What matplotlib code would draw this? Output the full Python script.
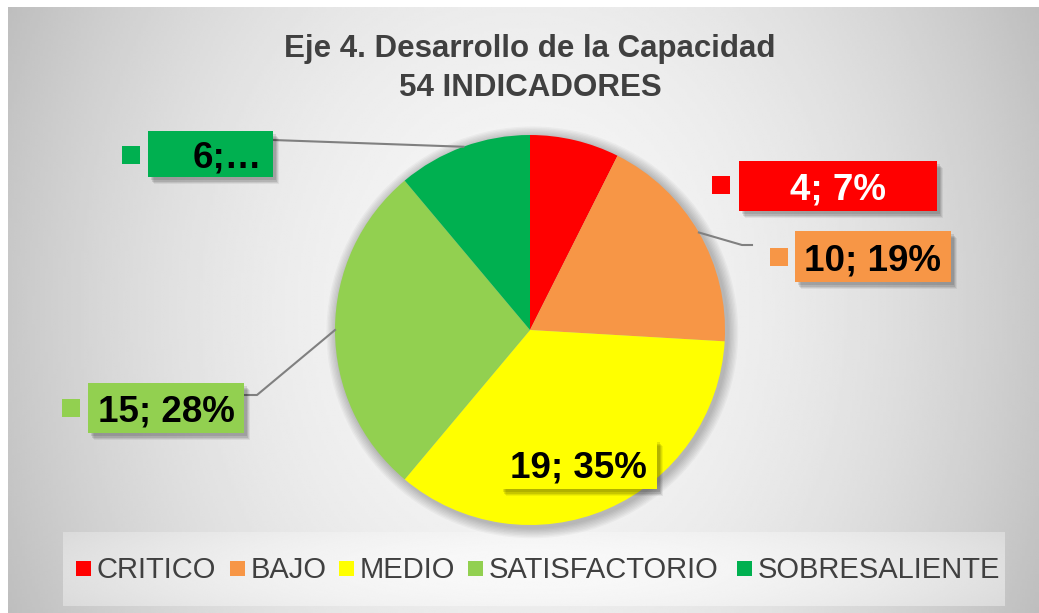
import numpy as np
import matplotlib
matplotlib.use("Agg")
import matplotlib.pyplot as plt
from matplotlib.patches import Rectangle, Circle

plt.rcParams['font.family'] = ['Liberation Sans', 'DejaVu Sans']

# ---- data ----
categories = ["CRITICO", "BAJO", "MEDIO", "SATISFACTORIO", "SOBRESALIENTE"]
values = [4, 10, 19, 15, 6]
colors = ["#FF0000", "#F79646", "#FFFF00", "#92D050", "#00B050"]
label_texts = ["4; 7%", "10; 19%", "19; 35%", "15; 28%", "6;\u2026"]
label_text_colors = ["white", "black", "black", "black", "black"]
title_lines = ["Eje 4. Desarrollo de la Capacidad", "54 INDICADORES"]

W, H = 1039, 613
fig = plt.figure(figsize=(W / 100, H / 100), dpi=100)
fig.patch.set_facecolor("white")

# background overlay (pixel coords, y down)
bg = fig.add_axes([0, 0, 1, 1], zorder=0)
bg.axis("off")

x0, x1, y0, y1 = 8, W, 7, H
xs = np.linspace(-1, 1, 400)
ys = np.linspace(-1, 1, 240)
XX, YY = np.meshgrid(xs, ys)
grad = 0.965 - 0.18 * XX ** 2 - 0.04 * YY ** 2
bg.imshow(grad, cmap="gray", vmin=0, vmax=1, extent=(x0, x1, y1, y0),
          aspect="auto", interpolation="bilinear", zorder=0)

lx0, lx1, ly0, ly1 = 63, 1005, 532, 606
lg = 0.975 - 0.1 * XX ** 2 - 0.02 * YY ** 2
bg.imshow(lg, cmap="gray", vmin=0, vmax=1, extent=(lx0, lx1, ly1, ly0),
          aspect="auto", interpolation="bilinear", zorder=1)
bg.set_xlim(0, W); bg.set_ylim(H, 0)

# pie axes
cx, cy, r = 530, 330, 195
ax = fig.add_axes([(cx - r - 20) / W, (H - cy - r - 20) / H, (2 * r + 40) / W, (2 * r + 40) / H], zorder=1)
ext = (r + 20) / r
# soft shadow halo
for k in range(1, 9):
    ax.add_patch(Circle((0.012, -0.012), 1 + 0.007 * k, facecolor="black",
                        alpha=0.03, lw=0, zorder=0))
wedges, _ = ax.pie(values, colors=colors, startangle=90, counterclock=False,
                   radius=1, wedgeprops=dict(linewidth=0, zorder=2))
ax.set_xlim(-ext, ext); ax.set_ylim(-ext, ext); ax.set_aspect("equal"); ax.axis("off")

# foreground overlay
fg = fig.add_axes([0, 0, 1, 1], zorder=2)
fg.set_xlim(0, W); fg.set_ylim(H, 0); fg.axis("off")
fg.patch.set_alpha(0)

for yb, line in zip([57, 96], title_lines):
    fg.text(530, yb, line, ha="center", va="baseline", fontsize=22.5,
            fontweight="bold", color="#404040")

boxes = [(739, 161, 937, 211), (795, 231, 951, 282), (500, 439, 657, 489),
         (88, 383, 244, 433), (148, 131, 273, 177)]
keys = [(712, 176), (770, 248), None, (62, 399), (122, 146)]
aligns = ["center", "center", "center", "center", "right"]

total = sum(values)
cum = np.cumsum(values)
def pie_point(i):
    frac = (cum[i] - values[i] / 2) / total
    th = np.deg2rad(90 - 360 * frac)
    d = ax.transData.transform((np.cos(th), np.sin(th)))
    return fg.transData.inverted().transform(d)

leaders = {1: [(742, 245), (752, 245)], 3: [(257, 395), (244, 395)], 4: [(273, 140)]}
for i, pts in leaders.items():
    p0 = pie_point(i)
    fg.plot([p0[0]] + [p[0] for p in pts], [p0[1]] + [p[1] for p in pts],
            color="#808080", lw=1.5, zorder=1)

for i, (b, k, al) in enumerate(zip(boxes, keys, aligns)):
    bx0, by0, bx1, by1 = b
    for dx, dy, a in [(6, 7, 0.06), (5, 6, 0.08), (4, 5, 0.1), (3, 3, 0.1)]:
        fg.add_patch(Rectangle((bx0 + dx, by0 + dy), bx1 - bx0, by1 - by0,
                               facecolor="black", alpha=a, lw=0, zorder=2))
    fg.add_patch(Rectangle((bx0, by0), bx1 - bx0, by1 - by0,
                           facecolor=colors[i], lw=0, zorder=3))
    if k is not None:
        fg.add_patch(Rectangle(k, 18, 18, facecolor=colors[i], lw=0, zorder=3))
    tx = (bx0 + bx1) / 2 if al == "center" else bx1 - 11
    fg.text(tx, (by0 + by1) / 2 + 13.5, label_texts[i], ha=al, va="baseline",
            fontsize=26.5, fontweight="bold", color=label_text_colors[i], zorder=4)

# legend (manual layout)
leg_key_x = [76, 230, 339, 468, 737]
leg_y = 568
for kx, c, name in zip(leg_key_x, colors, categories):
    fg.add_patch(Rectangle((kx, leg_y - 7.5), 15, 15, facecolor=c, lw=0, zorder=3))
    fg.text(kx + 21, leg_y + 10.5, name, ha="left", va="baseline", fontsize=21,
            color="#404040", zorder=4)

fig.savefig("out.png", dpi=100)
